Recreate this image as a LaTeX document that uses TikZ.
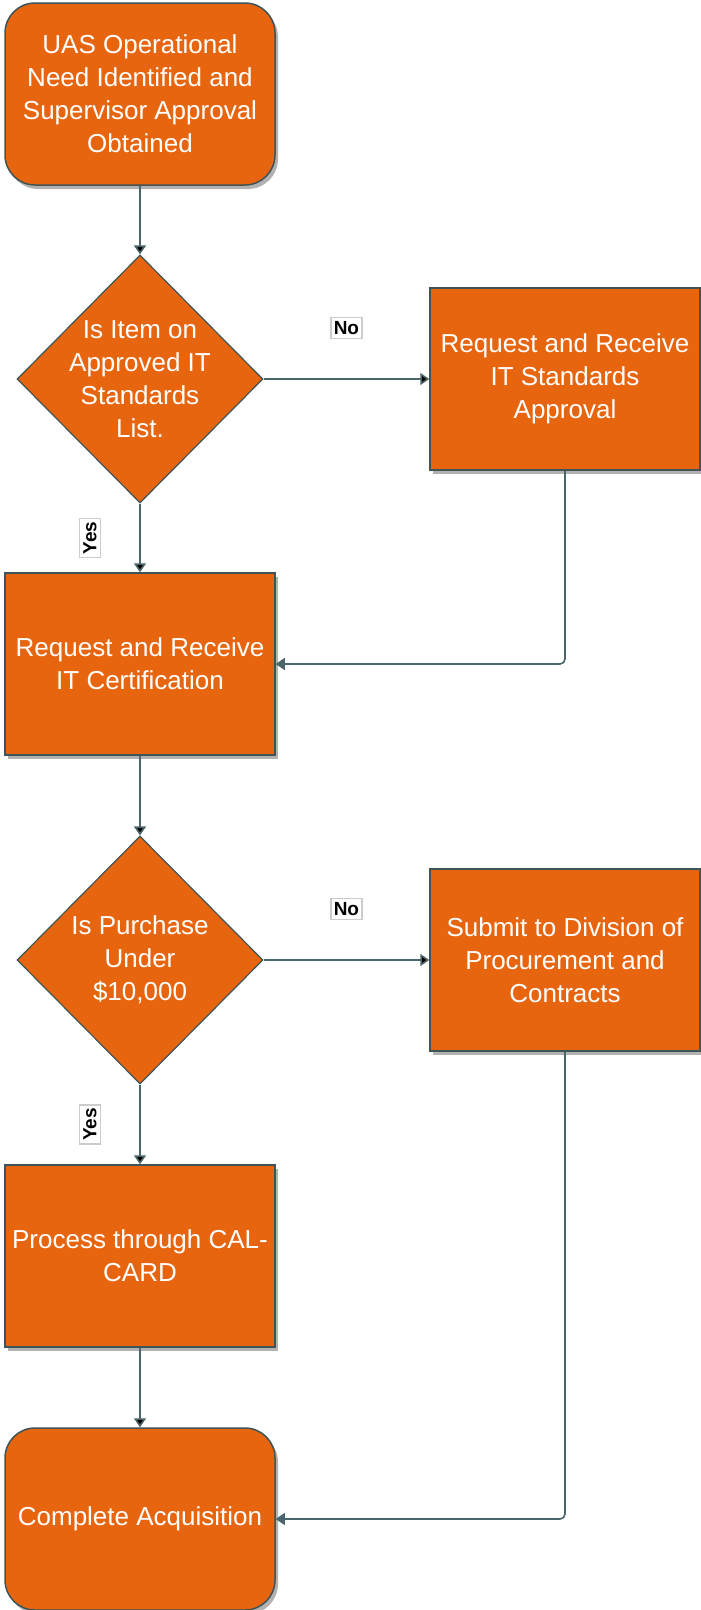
\documentclass[tikz,border=0pt]{standalone}
\usepackage{fontspec}
\setmainfont{Liberation Sans}
\usetikzlibrary{arrows.meta}
\usetikzlibrary{shapes}
\usetikzlibrary{shadows}

\definecolor{flow_orange}{RGB}{232,101,15}
\definecolor{flow_border}{RGB}{62,84,86}
\definecolor{flow_line}{RGB}{74,102,106}

\begin{document}
\begin{tikzpicture}[x=1pt, y=-1pt, font=\fontsize{26}{33}\selectfont,
        terminal_style/.style={rectangle,rounded corners=30pt,draw=flow_border,line width=1.5pt,fill=flow_orange,text=white,align=center,minimum width=270pt,minimum height=182pt,drop shadow={shadow xshift=3pt,shadow yshift=-4pt,fill=black!60,opacity=0.5}},
        process_style/.style={rectangle,draw=flow_border,line width=1.5pt,fill=flow_orange,text=white,align=center,minimum width=270pt,minimum height=182pt,drop shadow={shadow xshift=3pt,shadow yshift=-4pt,fill=black!60,opacity=0.5}},
        decision_style/.style={diamond,draw=flow_border,line width=1.2pt,fill=flow_orange,inner sep=0pt,minimum width=246pt,minimum height=248pt},
        decision_text/.style={text=white,align=center},
        tag_style/.style={rectangle,draw=black!20,fill=white,text=black,inner xsep=3pt,inner ysep=4pt,font=\bfseries\fontsize{19}{19}\selectfont},
        edge_style/.style={draw=flow_line, line width=1.6pt, -{Triangle[width=12pt,length=9pt]}}]

        \useasboundingbox (0,0) rectangle (701,1610);

        \node [terminal_style](n1) at (140,94) {UAS Operational\\Need Identified and\\Supervisor Approval\\Obtained};

        \node [decision_style,label={[decision_text]center:Is Item on\\Approved IT\\Standards\\List.}](n2) at (140,379) {};

        \node [process_style](n3) at (565,379) {Request and Receive\\IT Standards\\Approval};

        \node [process_style](n4) at (140,664) {Request and Receive\\IT Certification};

        \node [decision_style,label={[decision_text]center:Is Purchase\\Under\\\$10,000}](n5) at (140,960) {};

        \node [process_style](n6) at (565,960) {Submit to Division of\\Procurement and\\Contracts};

        \node [process_style](n7) at (140,1256) {Process through CAL-\\CARD};

        \node [terminal_style](n8) at (140,1519) {Complete Acquisition};

        \draw [edge_style] (n1) edge (n2);

        \draw [edge_style] (n2) edge node[tag_style,yshift=51pt](l1){No} (n3);

        \draw [edge_style] (n2) edge node[tag_style,xshift=-50pt,rotate=90](l2){Yes} (n4);

        \draw [edge_style,rounded corners=5pt] (n3) |- (n4);

        \draw [edge_style] (n4) edge (n5);

        \draw [edge_style] (n5) edge node[tag_style,yshift=51pt](l3){No} (n6);

        \draw [edge_style] (n5) edge node[tag_style,xshift=-50pt,rotate=90](l4){Yes} (n7);

        \draw [edge_style,rounded corners=5pt] (n6) |- (n8);

        \draw [edge_style] (n7) edge (n8);

        \end{tikzpicture}
\end{document}
